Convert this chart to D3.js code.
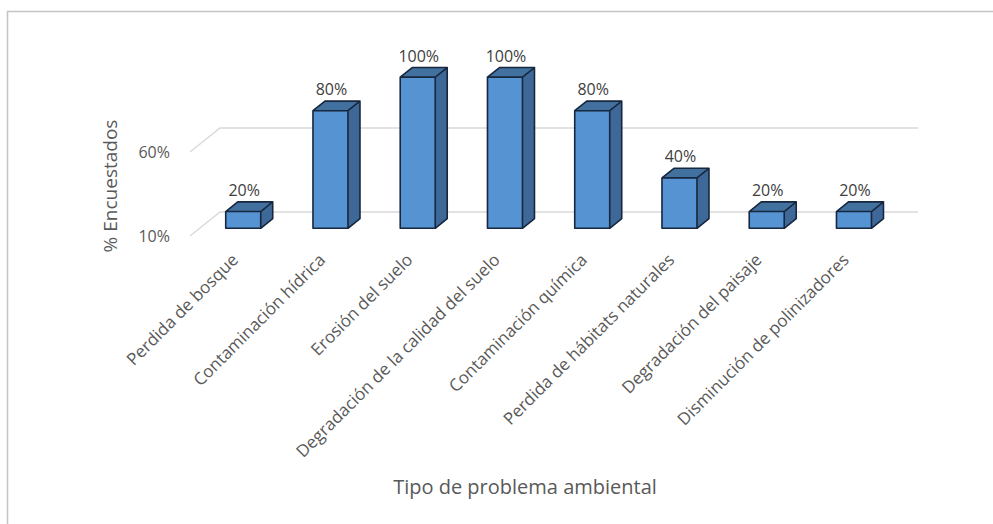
<!DOCTYPE html>
<html>
<head>
<meta charset="utf-8">
<script src="https://cdnjs.cloudflare.com/ajax/libs/d3/7.8.5/d3.min.js"></script>
<style>
  body { margin: 0; background: #fff; }
  text { font-family: "Open Sans", sans-serif; }
</style>
</head>
<body>
<div id="chart"></div>
<script>
// data
var categories = ["Perdida de bosque", "Contaminación hídrica", "Erosión del suelo",
  "Degradación de la calidad del suelo", "Contaminación química",
  "Perdida de hábitats naturales", "Degradación del paisaje", "Disminución de polinizadores"];
var values = [20, 80, 100, 100, 80, 40, 20, 20];
var yTicks = [10, 60];

var width = 993, height = 524;
var svg = d3.select("#chart").append("svg")
    .attr("width", width).attr("height", height);

// frame (only top and left edges show in the picture)
svg.append("path")
    .attr("d", "M7.5,524 L7.5,11.5 L993,11.5")
    .attr("fill", "none").attr("stroke", "#c4c4c4").attr("stroke-width", 1.5);

// back wall scales
var x = d3.scaleBand().domain(categories).range([220, 918]);
var y = d3.scaleLinear().domain([10, 110]).range([212, 44]);

// oblique depth: z = 0 back wall, z = 1 front of floor
var depthX = 30, depthY = 24;
function p(px, v, z) { return [px - z * depthX, y(v) + z * depthY]; }

var g = svg.append("g");

// gridlines on back wall + side wall edge
yTicks.forEach(function(t) {
  var pts = [p(220, t, 1), p(220, t, 0), p(918, t, 0)];
  g.append("path")
    .attr("d", d3.line()(pts))
    .attr("fill", "none").attr("stroke", "#d9d9d9").attr("stroke-width", 1.5);
  var a = p(220, t, 1);
  g.append("text")
    .attr("x", 170).attr("y", a[1] + 6)
    .attr("text-anchor", "end")
    .attr("font-size", 16).attr("fill", "#595959")
    .text(t + "%");
});

// bars
var barW = 35, zf = 0.68, zb = 0.28;
var bars = g.selectAll("g.bar").data(categories).enter().append("g").attr("class", "bar");

bars.each(function(c, i) {
  var v = values[i];
  var x0 = x(c) + (x.bandwidth() - barW) / 2, x1 = x0 + barW;
  var el = d3.select(this);
  var line = d3.line();
  // side face
  el.append("path")
    .attr("d", line([p(x1, 10, zf), p(x1, v, zf), p(x1, v, zb), p(x1, 10, zb)]) + "Z")
    .attr("fill", "#3e6898");
  // top face
  el.append("path")
    .attr("d", line([p(x0, v, zf), p(x1, v, zf), p(x1, v, zb), p(x0, v, zb)]) + "Z")
    .attr("fill", "#42709f");
  // front face
  el.append("path")
    .attr("d", line([p(x0, 10, zf), p(x0, v, zf), p(x1, v, zf), p(x1, 10, zf)]) + "Z")
    .attr("fill", "#5593d3");
  // outline
  el.append("path")
    .attr("d", line([p(x0, 10, zf), p(x0, v, zf), p(x0, v, zb), p(x1, v, zb), p(x1, 10, zb), p(x1, 10, zf)]) + "Z"
      + "M" + p(x0, v, zf) + "L" + p(x1, v, zf) + "L" + p(x1, v, zb)
      + "M" + p(x1, v, zf) + "L" + p(x1, 10, zf))
    .attr("fill", "none").attr("stroke", "#17273d").attr("stroke-width", 1.6)
    .attr("stroke-linejoin", "round");

  var fc = (x0 + x1) / 2 - zf * depthX;
  // value label
  el.append("text")
    .attr("x", fc + 1).attr("y", p(x0, v, zb)[1] - 6)
    .attr("text-anchor", "middle")
    .attr("font-size", 16).attr("fill", "#404040")
    .text(v + "%");
  // category label
  el.append("text")
    .attr("transform", "translate(" + (fc - 4) + ",261) rotate(-45)")
    .attr("text-anchor", "end")
    .attr("font-size", 17).attr("fill", "#595959")
    .text(c);
});

// axis titles
svg.append("text")
    .attr("transform", "translate(117,186) rotate(-90)")
    .attr("text-anchor", "middle")
    .attr("font-size", 19).attr("fill", "#595959")
    .text("% Encuestados");

svg.append("text")
    .attr("x", 525).attr("y", 494)
    .attr("text-anchor", "middle")
    .attr("font-size", 20).attr("fill", "#595959")
    .text("Tipo de problema ambiental");
</script>
</body>
</html>
